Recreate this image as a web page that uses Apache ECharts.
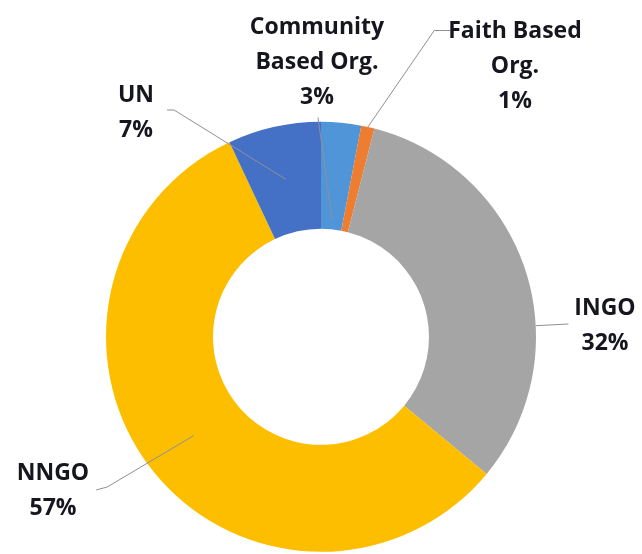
<!DOCTYPE html>
<html>
<head>
<meta charset="utf-8">
<script src="https://cdn.jsdelivr.net/npm/echarts@6/dist/echarts.min.js"></script>
<style>
html,body{margin:0;padding:0;background:#fff;}
#main{width:642px;height:554px;}
</style>
</head>
<body>
<div id="main"></div>
<script>
// ---- data ----
const categories = ['Community Based Org.', 'Faith Based Org.', 'INGO', 'NNGO', 'UN'];
const labelNames = ['Community\nBased Org.', 'Faith Based\nOrg.', 'INGO', 'NNGO', 'UN'];
const values = [3, 1, 32, 57, 7];
const colors = ['#4f95d8', '#ed7d31', '#a5a5a5', '#fdbe00', '#4471c6'];

// ---- label placement (text boxes, centre points) ----
const labelCenter = {
  'Community Based Org.': [317, 62],
  'Faith Based Org.': [515, 66],
  'INGO': [605, 326],
  'NNGO': [53, 491],
  'UN': [136, 113]
};

const chart = echarts.init(document.getElementById('main'), null, {renderer: 'canvas'});

function sliceLayout(si, i) {
  return chart.getModel().getSeriesByIndex(si).getData().getItemLayout(i);
}
function pt(l, ang, r) { return [l.cx + r * Math.cos(ang), l.cy + r * Math.sin(ang)]; }

const common = {
  type: 'pie',
  center: ['50%', '60.8%'],
  radius: [108, 215],
  startAngle: 90,
  clockwise: true,
  avoidLabelOverlap: false,
  percentPrecision: 0,
  emphasis: {disabled: true},
  silent: true
};

const option = {
  animation: false,
  backgroundColor: '#ffffff',
  series: [
    Object.assign({}, common, {
      z: 2,
      itemStyle: {borderWidth: 0},
      label: {show: false},
      labelLine: {show: false},
      data: categories.map((n, i) => ({name: n, value: values[i], itemStyle: {color: colors[i]}}))
    }),
    Object.assign({}, common, {
      z: 5,
      itemStyle: {color: 'rgba(0,0,0,0)', borderWidth: 0},
      label: {
        show: true,
        position: 'outside',
        fontFamily: 'Open Sans',
        fontWeight: 'bold',
        fontSize: 23,
        lineHeight: 35,
        color: '#16161f',
        align: 'center',
        formatter: p => labelNames[p.dataIndex] + '\n' + Math.round(p.percent) + '%'
      },
      labelLine: {show: true, length: 10, length2: 10, lineStyle: {color: '#8f8f98', width: 1}},
      labelLayout: function (p) {
        const name = categories[p.dataIndex];
        const c = labelCenter[name];
        const w = p.labelRect.width, h = p.labelRect.height;
        const l = sliceLayout(p.seriesIndex, p.dataIndex);
        const mid = (l.startAngle + l.endAngle) / 2;
        const ringMid = (l.r + l.r0) / 2;
        const left = c[0] - w / 2, right = c[0] + w / 2, top = c[1] - h / 2, bottom = c[1] + h / 2;
        let pts;
        if (name === 'Community Based Org.') {
          pts = [pt(l, mid, l.r0 + 10), [c[0] + 1, bottom + 3]];
        } else if (name === 'Faith Based Org.') {
          const a = pt(l, mid, l.r);
          pts = [a, [left - 14, top + 17], [left + 2, top + 17]];
        } else if (name === 'INGO') {
          const dx = left - 6 - l.cx, dy = c[1] - 2 - l.cy;
          const ang = Math.atan2(dy, dx);
          pts = [pt(l, ang, l.r), [left - 6, c[1] - 2]];
        } else if (name === 'NNGO') {
          pts = [pt(l, mid, ringMid), [right + 18, c[1] - 4], [right + 7, c[1] - 1]];
        } else {
          pts = [pt(l, mid, ringMid), [right + 20, c[1] - 3], [right + 13, c[1] - 3]];
        }
        return {x: c[0], y: c[1], align: 'center', verticalAlign: 'middle', labelLinePoints: pts};
      },
      data: categories.map((n, i) => ({name: n, value: values[i]}))
    })
  ]
};
chart.setOption(option);
</script>
</body>
</html>
